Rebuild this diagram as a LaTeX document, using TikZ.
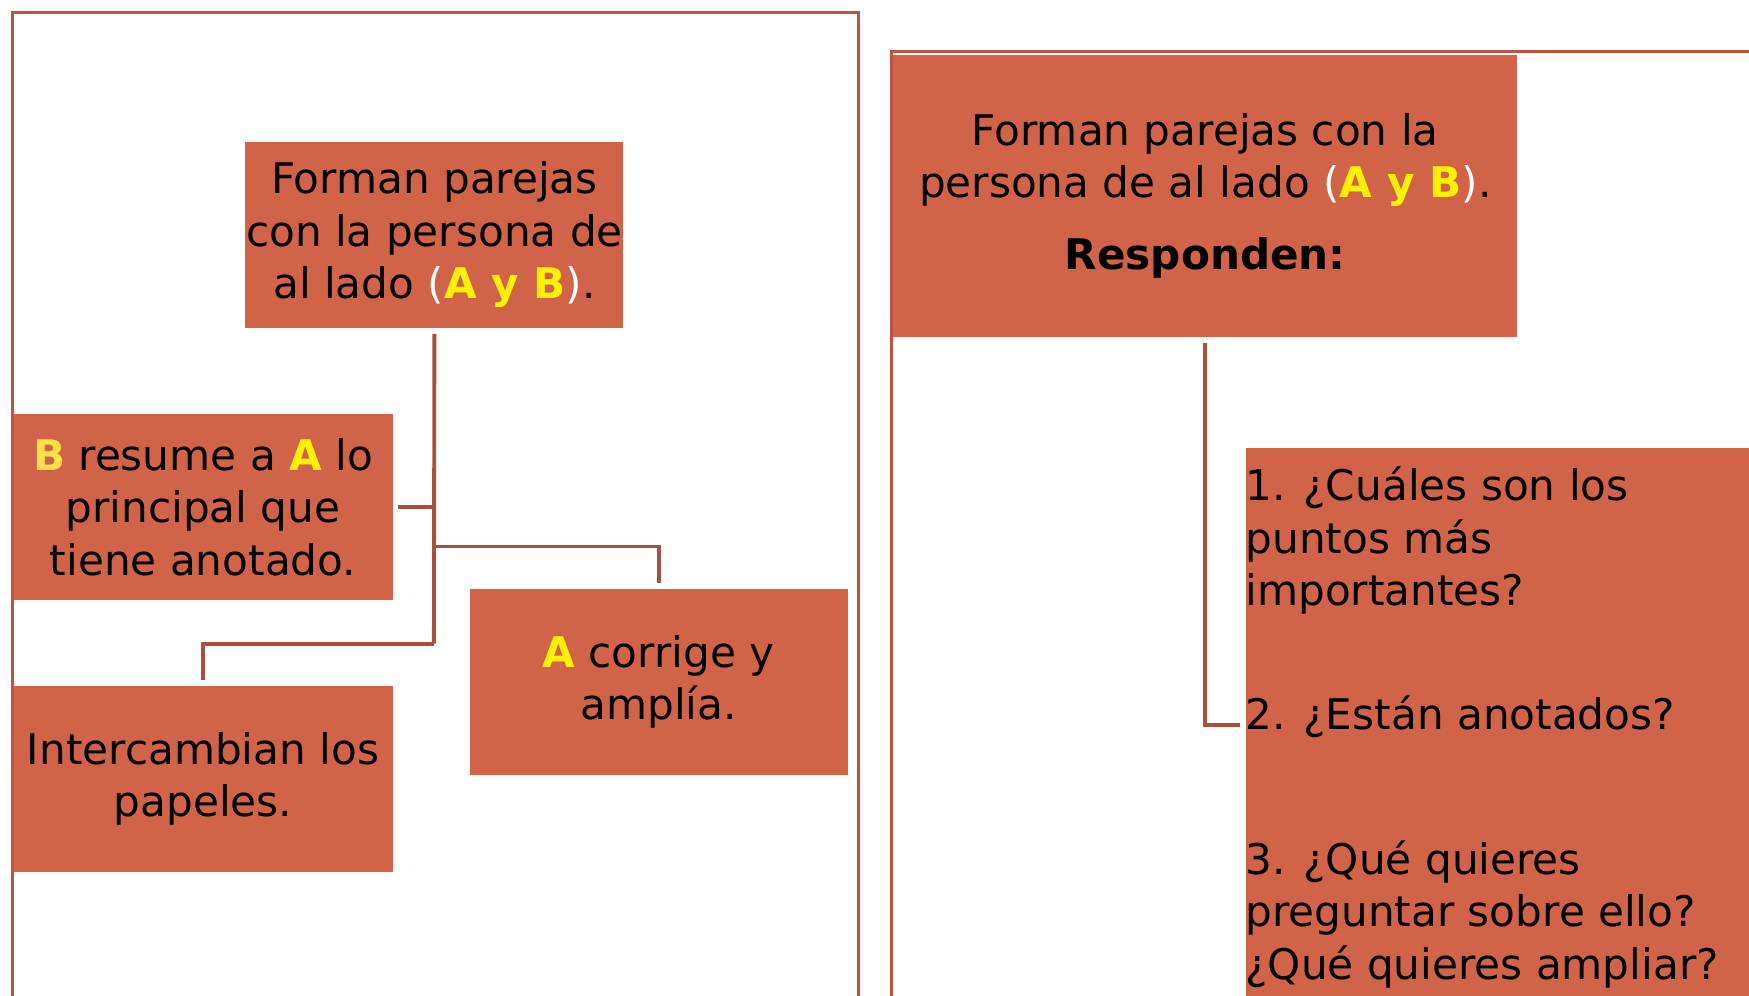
\documentclass[tikz,border=0pt]{standalone}
\usepackage{fontspec}
\setmainfont{DejaVu Sans}
\usepackage{tikz}

\definecolor{boxred}{RGB}{209,99,73}
\definecolor{linkred}{RGB}{168,80,60}
\definecolor{framered}{RGB}{190,83,62}
\definecolor{softyellow}{RGB}{255,224,72}

\newcommand{\pareja}{\textcolor{white}{(}\textbf{\textcolor{yellow}{A y B}}\textcolor{white}{)}}

\begin{document}
\begin{tikzpicture}[
		box/.style={shape=rectangle,fill=boxred,inner sep=0pt,align=center,
			font=\fontsize{12pt}{14.9pt}\selectfont},
		link/.style={draw=linkred,line width=1.1pt},
		frame/.style={draw=framered,line width=0.9pt}
	]
		\useasboundingbox (0,0) rectangle (17.49,-9.95);
		\clip (0,0) rectangle (17.49,-9.95);
		
		% frames
		\draw[frame] (0.123,-10.5) -- (0.123,-0.123) -- (8.589,-0.123) -- (8.589,-10.5);
		\draw[frame] (8.912,-10.5) |- (18,-0.513);
		
		% left side
		\node[box,minimum width=3.78cm,minimum height=1.86cm] (Pairs) at (4.344,-2.348)
			{Forman parejas\\con la persona de\\al lado \pareja.};
		\node[box,minimum width=3.79cm,minimum height=1.86cm] (Summary) at (2.030,-5.069)
			{\textbf{\textcolor{softyellow}{B}} resume a \textbf{\textcolor{yellow}{A}} lo\\principal que\\tiene anotado.};
		\node[box,minimum width=3.78cm,minimum height=1.86cm] (Correct) at (6.586,-6.821)
			{\textbf{\textcolor{yellow}{A}} corrige y\\amplía.};
		\node[box,minimum width=3.79cm,minimum height=1.86cm] (Swap) at (2.030,-7.791)
			{Intercambian los\\papeles.};
		
		\coordinate (Trunk) at (4.339,-6.436);
		\coordinate (ForkR) at (4.339,-5.465);
		
		\draw[link,shorten <=1.5pt] (Pairs.south) -- (Trunk);
		\draw[link,shorten <=1.5pt] (Summary.east) -- (Summary.east -| Trunk);
		\draw[link,shorten >=1.5pt] (ForkR) -| (Correct.north);
		\draw[link,shorten >=1.5pt] (Trunk) -| (Swap.north);
		
		% right side
		\node[box,minimum width=6.235cm,minimum height=2.822cm] (PairsR) at (12.052,-1.958)
			{Forman parejas con la\\persona de al lado \pareja.\\[0.2cm]\textbf{Responden:}};
		\node[box,anchor=north west,minimum width=5.3cm,minimum height=5.8cm] (Questions) at (12.448,-4.473) {};
		\node[anchor=base west,align=left,inner sep=0pt,font=\fontsize{12pt}{14.9pt}\selectfont] (QText) at (12.448,-9.79)
			{1. ¿Cuáles son los\\puntos más\\importantes?\\[0.715cm]2. ¿Están anotados?\\[0.926cm]3. ¿Qué quieres\\preguntar sobre ello?\\¿Qué quieres ampliar?};
		
		\coordinate (Level2) at (0,-7.25);
		\draw[link,shorten <=1.5pt,shorten >=1.5pt] (PairsR.south) |- (Questions.west |- Level2);
		
	\end{tikzpicture}
\end{document}
